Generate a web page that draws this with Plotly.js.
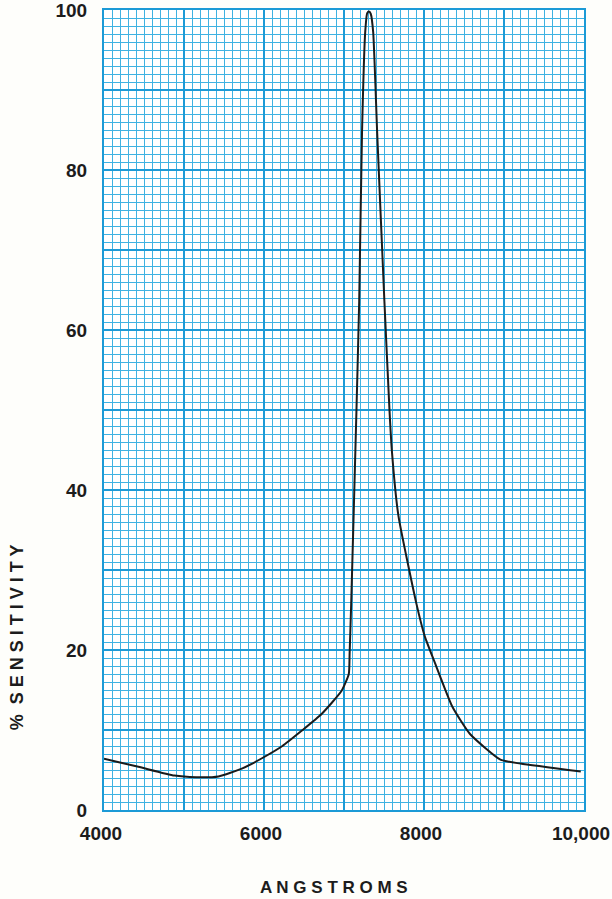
<!DOCTYPE html>
<html>
<head>
<meta charset="utf-8">
<script src="https://cdn.plot.ly/plotly-3.0.1.min.js"></script>
<style>
  html, body { margin: 0; padding: 0; background: #fefefb; }
  #chart { width: 612px; height: 899px; }
</style>
</head>
<body>
<div id="chart"></div>
<script>
// Wavelength (Angstroms) and % sensitivity
const wavelength = [4000, 4430, 4880, 5150, 5430, 5730, 5980, 6230, 6470, 6720, 6970, 7060, 7070, 7090, 7155, 7190, 7225, 7265, 7290, 7312, 7335, 7365, 7415, 7505, 7570, 7600, 7680, 7905, 8010, 8140, 8355, 8575, 8955, 9205, 9960];
const sensitivity = [6.4, 5.4, 4.3, 4.1, 4.2, 5.2, 6.5, 8.0, 9.9, 12.0, 14.9, 17.0, 19.5, 25.8, 49.7, 63.6, 84.6, 97.2, 99.6, 99.8, 99.5, 97.2, 84.6, 63.6, 49.7, 44.7, 36.8, 25.8, 21.7, 18.3, 12.9, 9.5, 6.3, 5.8, 4.8];

const xTickVals = [4000, 5000, 6000, 7000, 8000, 9000, 10000];
const xTickText = ['4000', '', '6000', '', '8000', '', '10,000'];
const yTickVals = [0, 10, 20, 30, 40, 50, 60, 70, 80, 90, 100];
const yTickText = ['0', '', '20', '', '40', '', '60', '', '80', '', '100'];

const majorGrid = '#1c9ad6';
const minorGrid = '#3fb2e2';
const tickFont = { family: 'Liberation Sans, Arial, sans-serif', size: 19, color: '#1c1c1c', weight: 'bold' };

const trace = {
  x: wavelength,
  y: sensitivity,
  type: 'scatter',
  mode: 'lines',
  line: { color: '#1b1b1b', width: 2, shape: 'spline', smoothing: 0.5 },
  hoverinfo: 'skip'
};

const layout = {
  width: 612,
  height: 899,
  margin: { l: 104, r: 28, t: 10, b: 89 },
  paper_bgcolor: '#fefefb',
  plot_bgcolor: '#ffffff',
  showlegend: false,
  xaxis: {
    range: [4000, 10000],
    tickmode: 'array',
    tickvals: xTickVals,
    ticktext: xTickText,
    ticks: '',
    ticklabelstandoff: 5,
    ticklabelshift: -3,
    ticklabeloverflow: 'allow',
    tickfont: tickFont,
    showgrid: true,
    gridcolor: majorGrid,
    gridwidth: 2,
    zeroline: false,
    showline: true,
    linecolor: majorGrid,
    linewidth: 2,
    mirror: true,
    minor: { tickmode: 'linear', dtick: 100, tick0: 4000, showgrid: true, gridcolor: minorGrid, gridwidth: 1, ticks: '' },
    fixedrange: true
  },
  yaxis: {
    range: [0, 100],
    tickmode: 'array',
    tickvals: yTickVals,
    ticktext: yTickText,
    ticks: '',
    ticklabelstandoff: 11,
    ticklabeloverflow: 'allow',
    tickfont: tickFont,
    showgrid: true,
    gridcolor: majorGrid,
    gridwidth: 2,
    zeroline: false,
    showline: true,
    linecolor: majorGrid,
    linewidth: 2,
    mirror: true,
    minor: { tickmode: 'linear', dtick: 1, tick0: 0, showgrid: true, gridcolor: minorGrid, gridwidth: 1, ticks: '' },
    fixedrange: true
  },
  annotations: [
    {
      text: '<b>A N G S T R O M S</b>',
      xref: 'paper', yref: 'paper',
      x: 0.48, y: 0, yshift: -77,
      xanchor: 'center', yanchor: 'middle',
      showarrow: false,
      font: { family: 'Liberation Sans, Arial, sans-serif', size: 17, color: '#1c1c1c' }
    },
    {
      text: '<b>%  S E N S I T I V I T Y</b>',
      xref: 'paper', yref: 'paper',
      x: 0, xshift: -87, y: 0.216,
      xanchor: 'center', yanchor: 'middle',
      textangle: -90,
      showarrow: false,
      font: { family: 'Liberation Sans, Arial, sans-serif', size: 18, color: '#1c1c1c' }
    }
  ]
};

Plotly.newPlot('chart', [trace], layout, { staticPlot: true, displayModeBar: false });
</script>
</body>
</html>
